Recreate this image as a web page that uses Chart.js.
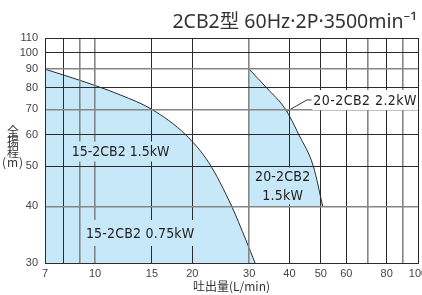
<!DOCTYPE html>
<html>
<head>
<meta charset="utf-8">
<script src="https://cdn.jsdelivr.net/npm/chart.js@4.4.1/dist/chart.umd.min.js"></script>
<style>
html,body{margin:0;padding:0;background:#fff;overflow:hidden}
canvas{display:block}
</style>
</head>
<body>
<canvas id="c" width="422" height="295"></canvas>
<script>
// ---------------- data ----------------
const TITLE = '2CB2型 60Hz·2P·3500min⁻¹';
const X_TITLE = '吐出量(L/min)';
const Y_TITLE = ['全', '揚', '程', '(m)'];

const X_GRID = [7, 8, 9, 10, 15, 20, 30, 40, 50, 60, 70, 80, 90, 100];
const X_LABELS = [7, 10, 15, 20, 30, 40, 50, 60, 80, 100];
const X_GRAY = [9, 10, 30, 70, 90];
const Y_TICKS = [30, 40, 50, 60, 70, 80, 90, 100, 110];
const Y_GRAY = [40, 70, 90];
const Y_OFFSET = 10; // vertical axis is logarithmic in (H - 10)

// 15-2CB2 performance curve (1.5kW upper, 0.75kW below 40 m)
const Q_15 = [7, 8, 10, 12, 15, 19.1, 22.5, 26.5, 29.3, 31.3];
const H_15 = [90, 86.7, 81.2, 76.5, 70, 60, 51, 40, 33.6, 30];
// 20-2CB2 performance curve (2.2kW upper, 1.5kW 40-60 m)
const Q_20 = [30, 34, 38.9, 42.8, 47.4, 50.7];
const H_20 = [90, 80, 70, 60, 50, 40];
// model split lines
const Q_SPLIT15 = [7, 26.5];
const H_SPLIT15 = [40, 40];
const Q_SPLIT20 = [30, 42.8];
const H_SPLIT20 = [60, 60];
// leader line for 20-2CB2 2.2kW
const Q_LEADER = [35.2, 45.3, 46.8];
const H_LEADER = [65.6, 74.2, 74.2];

// ---------------- styles ----------------
const FILL = 'rgb(199,232,248)';
const DARK = '#2b2b2b';
const GRAY = '#858585';
const LABEL_FONT = "14px 'DejaVu Sans Condensed', 'Liberation Sans Narrow', 'DejaVu Sans', sans-serif";

const LABELS = [
  {lines: ['15-2CB2 1.5kW'], q: 12, h: 54.4, align: 'center', bg: FILL, padX: 3, padY: 2, lh: 16, ls: 0},
  {lines: ['15-2CB2 0.75kW'], q: 13.8, h: 34.8, align: 'center', bg: FILL, padX: 3, padY: 5, lh: 16, ls: 0.2},
  {lines: ['20-2CB2', '1.5kW'], q: 38.1, h: 44.7, align: 'center', bg: FILL, padX: 2, padY: 0, lh: 18.5, ls: 0.2},
  {lines: ['20-2CB2 2.2kW'], q: 47.4, h: 74.2, align: 'left', bg: '#ffffff', padX: 1, padY: 2, lh: 16, ls: 0.45}
];

const pts = (xs, ys) => xs.map((v, i) => ({x: v, y: ys[i]}));

// ---------------- custom scale: log10(H - offset) ----------------
const BaseLinear = Chart.LinearScale || Chart.registry.getScale('linear');
class OffsetLogScale extends BaseLinear {
  buildTicks() { return Y_TICKS.map(v => ({value: v})); }
  configure() {
    super.configure();
    this._tA = Math.log10(this.min - Y_OFFSET);
    this._tB = Math.log10(this.max - Y_OFFSET);
  }
  getPixelForValue(v) {
    if (v === null || v === undefined || isNaN(v)) return NaN;
    return this.getPixelForDecimal((Math.log10(v - Y_OFFSET) - this._tA) / (this._tB - this._tA));
  }
  getValueForPixel(p) {
    const d = this.getDecimalForPixel(p);
    return Y_OFFSET + Math.pow(10, this._tA + d * (this._tB - this._tA));
  }
}
OffsetLogScale.id = 'offsetlog';
OffsetLogScale.defaults = {};
Chart.register(OffsetLogScale);

// ---------------- text plugin ----------------
const textPlugin = {
  id: 'texts',
  afterDraw(chart) {
    const {ctx} = chart;
    const x = chart.scales.x, y = chart.scales.y;
    ctx.save();
    ctx.setTransform(1, 0, 0, 1, 0, 0);
    ctx.letterSpacing = '0px';
    // title
    ctx.fillStyle = '#333';
    ctx.font = "19.5px 'Noto Sans', 'Noto Sans CJK JP', sans-serif";
    ctx.textAlign = 'right';
    ctx.textBaseline = 'middle';
    ctx.fillText(TITLE, 417, 22);
    // y title, stacked vertically
    ctx.font = "12px 'Noto Sans CJK JP', sans-serif";
    ctx.textAlign = 'center';
    Y_TITLE.forEach((t, i) => {
      ctx.letterSpacing = (i === Y_TITLE.length - 1) ? '1px' : '0px';
      ctx.fillText(t, 13, 131.3 + i * 10.5);
    });
    ctx.letterSpacing = '0px';
    // region labels
    ctx.font = LABEL_FONT;
    LABELS.forEach(l => {
      ctx.letterSpacing = l.ls + 'px';
      const cx = x.getPixelForValue(l.q), cy = y.getPixelForValue(l.h);
      const w = Math.max(...l.lines.map(t => ctx.measureText(t).width));
      const left = l.align === 'left' ? cx : cx - w / 2;
      const hTot = l.lh * l.lines.length;
      ctx.fillStyle = l.bg;
      ctx.fillRect(left - l.padX, cy - hTot / 2 - l.padY, w + 2 * l.padX, hTot + 2 * l.padY);
      ctx.fillStyle = '#222';
      ctx.textAlign = 'center';
      ctx.textBaseline = 'middle';
      l.lines.forEach((t, i) => ctx.fillText(t, left + w / 2, cy - hTot / 2 + l.lh * (i + 0.5) + 1));
    });
    ctx.letterSpacing = '0px';
    ctx.restore();
  }
};

new Chart(document.getElementById('c'), {
  type: 'line',
  data: {
    datasets: [
      {data: pts(Q_15, H_15), borderColor: DARK, borderWidth: 1, backgroundColor: FILL,
       fill: {value: 30}, pointRadius: 0, cubicInterpolationMode: 'monotone'},
      {data: pts(Q_20, H_20), borderColor: DARK, borderWidth: 1, backgroundColor: FILL,
       fill: {value: 40}, pointRadius: 0, cubicInterpolationMode: 'monotone'},
      {data: pts(Q_SPLIT15, H_SPLIT15), borderColor: '#111', borderWidth: 3, pointRadius: 0, fill: false},
      {data: pts(Q_SPLIT20, H_SPLIT20), borderColor: DARK, borderWidth: 2, pointRadius: 0, fill: false},
      {data: pts(Q_LEADER, H_LEADER), borderColor: '#333', borderWidth: 1, fill: false,
       pointRadius: [2.5, 0, 0], pointBackgroundColor: '#333', pointBorderWidth: 0}
    ]
  },
  options: {
    responsive: false,
    devicePixelRatio: 1,
    animation: false,
    layout: {padding: {top: 38, left: 0, right: 0, bottom: 0}},
    plugins: {legend: {display: false}, tooltip: {enabled: false}, title: {display: false}},
    scales: {
      x: {
        type: 'logarithmic', min: 7, max: 100,
        afterBuildTicks: s => { s.ticks = X_GRID.map(v => ({value: v})); },
        afterFit: s => { s.height = 32; s.paddingLeft = 0; s.paddingRight = 0; },
        grid: {
          z: 1, drawTicks: false,
          color: c => (c.tick && X_GRAY.includes(c.tick.value)) ? GRAY : DARK,
          lineWidth: c => (c.tick && X_GRAY.includes(c.tick.value)) ? 1.6 : 1
        },
        border: {display: true, color: DARK, width: 1, z: 2},
        ticks: {
          autoSkip: false, maxRotation: 0, minRotation: 0, padding: 4, color: '#444',
          font: {family: "'Liberation Sans', Arial, sans-serif", size: 11},
          callback: v => X_LABELS.includes(v) ? String(v) : ''
        },
        title: {display: true, text: X_TITLE, color: '#333', padding: {top: 0, bottom: 1},
          font: {family: "'Noto Sans CJK JP', sans-serif", size: 12}}
      },
      y: {
        type: 'offsetlog', min: 30, max: 110,
        afterFit: s => { s.width = 45; s.paddingTop = 0; s.paddingBottom = 0; },
        grid: {
          z: 1, drawTicks: false,
          color: c => (c.tick && Y_GRAY.includes(c.tick.value)) ? GRAY : DARK,
          lineWidth: c => (c.tick && Y_GRAY.includes(c.tick.value)) ? 1.6 : 1
        },
        border: {display: true, color: DARK, width: 1, z: 2},
        ticks: {
          autoSkip: false, padding: 7, color: '#444',
          font: {family: "'Liberation Sans', Arial, sans-serif", size: 11},
          callback: v => String(v)
        }
      }
    }
  },
  plugins: [textPlugin]
});
</script>
</body>
</html>
